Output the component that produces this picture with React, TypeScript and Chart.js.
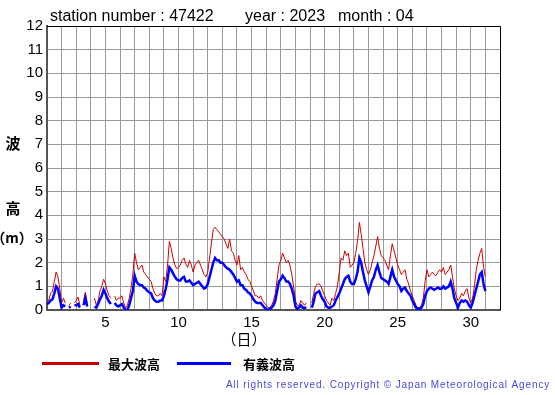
import React, { useEffect, useRef } from "react";
import { Chart, registerables } from "chart.js";

Chart.register(...registerables);

// 3-hourly wave heights (m), April 2023, station 47422; 8 values per day, plus 24:00 of day 30
const maxWave: (number | null)[] = [
  0.45, 0.4, 0.7, 0.8, 1.2, 1.6, 1.4, 0.9, // 1
  0.3, 0.5, 0.3, null, 0.2, 0.3, null, 0.3, // 2
  0.4, 0.55, 0.2, null, 0.4, 0.75, 0.3, null, // 3
  0.2, null, 0.5, 0.2, 0.4, 0.8, 1.0, 1.3, // 4
  1.1, 0.8, 0.6, 0.5, null, 0.6, 0.4, 0.5, // 5
  0.5, 0.6, 0.3, 0.1, 0.2, 0.5, 0.9, 1.5, // 6
  2.4, 2.0, 1.7, 1.8, 1.9, 1.6, 1.5, 1.4, // 7
  1.3, 1.2, 0.9, 0.7, 0.6, 0.6, 0.7, 0.6, // 8
  1.4, 1.2, 1.9, 2.9, 2.6, 2.2, 1.9, 1.75, // 9
  1.8, 1.9, 2.1, 2.2, 1.95, 1.8, 2.1, 1.9, // 10
  1.6, 1.9, 2.0, 2.1, 1.9, 1.7, 1.5, 1.4, // 11
  1.6, 2.2, 2.8, 3.4, 3.5, 3.4, 3.3, 3.2, // 12
  3.1, 3.0, 2.8, 2.6, 3.0, 2.5, 2.4, 2.1, // 13
  1.9, 2.3, 1.7, 1.8, 1.6, 1.5, 1.3, 1.2, // 14
  1.0, 0.8, 0.6, 0.6, 0.5, 0.6, 0.4, 0.3, // 15
  0.2, 0.1, 0.1, 0.2, 0.4, 0.7, 1.3, 1.9, // 16
  2.1, 2.4, 2.2, 2.0, 2.1, 1.9, 1.5, 1.0, // 17
  0.4, 0.2, 0.2, 0.4, 0.3, 0.2, 0.3, null, // 18
  null, 0.3, 0.7, 1.0, 1.1, 1.1, 1.0, 0.8, // 19
  0.6, 0.4, 0.3, 0.2, 0.5, 0.4, 0.7, 1.0, // 20
  1.6, 2.2, 2.1, 2.5, 2.3, 2.4, 1.8, 1.9, // 21
  2.0, 2.4, 2.9, 3.7, 3.2, 2.6, 2.0, 1.7, // 22
  1.5, 1.7, 2.0, 2.3, 2.7, 3.1, 2.6, 2.3, // 23
  2.2, 2.1, 1.9, 1.7, 2.3, 2.8, 2.5, 2.2, // 24
  1.9, 1.7, 1.5, 1.6, 1.7, 1.3, 1.1, 0.8, // 25
  0.6, 0.4, 0.2, 0.1, 0.1, 0.2, 0.5, 1.2, // 26
  1.7, 1.4, 1.5, 1.6, 1.5, 1.45, 1.6, 1.7, // 27
  1.6, 1.8, 1.5, 1.6, 1.7, 1.9, 1.4, 0.9, // 28
  0.6, 0.4, 0.5, 0.7, 0.6, 0.8, 0.9, 0.5, // 29
  0.3, 0.5, 1.0, 1.7, 2.1, 2.4, 2.6, 1.8, // 30
  1.4,
];

const sigWave: (number | null)[] = [
  0.25, 0.3, 0.4, 0.45, 0.7, 1.0, 0.9, 0.5, // 1
  0.1, 0.2, 0.15, null, 0.1, 0.15, null, 0.2, // 2
  0.2, 0.25, 0.1, null, 0.2, 0.5, 0.15, null, // 3
  0.1, null, 0.15, 0.1, 0.25, 0.45, 0.6, 0.85, // 4
  0.7, 0.5, 0.35, 0.25, null, 0.3, 0.2, 0.15, // 5
  0.2, 0.25, 0.1, 0.0, 0.0, 0.2, 0.5, 0.8, // 6
  1.45, 1.2, 1.1, 1.05, 1.05, 0.95, 0.9, 0.8, // 7
  0.75, 0.7, 0.5, 0.4, 0.35, 0.35, 0.4, 0.4, // 8
  0.6, 0.9, 1.3, 1.8, 1.7, 1.55, 1.4, 1.3, // 9
  1.25, 1.25, 1.35, 1.4, 1.2, 1.2, 1.25, 1.15, // 10
  1.05, 1.1, 1.15, 1.2, 1.1, 1.0, 0.9, 0.95, // 11
  1.1, 1.4, 1.7, 2.0, 2.2, 2.1, 2.1, 2.0, // 12
  2.0, 1.9, 1.8, 1.75, 1.7, 1.6, 1.5, 1.35, // 13
  1.2, 1.25, 1.05, 1.05, 0.9, 0.85, 0.75, 0.7, // 14
  0.6, 0.45, 0.35, 0.3, 0.3, 0.3, 0.2, 0.1, // 15
  0.05, 0.0, 0.05, 0.1, 0.2, 0.4, 0.8, 1.2, // 16
  1.3, 1.45, 1.35, 1.2, 1.2, 1.1, 0.9, 0.6, // 17
  0.15, 0.05, 0.1, 0.2, 0.1, 0.1, 0.1, null, // 18
  null, 0.1, 0.35, 0.7, 0.75, 0.8, 0.6, 0.45, // 19
  0.35, 0.15, 0.1, 0.1, 0.15, 0.2, 0.4, 0.55, // 20
  0.7, 0.9, 1.1, 1.3, 1.4, 1.45, 1.2, 1.1, // 21
  1.1, 1.3, 1.6, 2.2, 2.0, 1.6, 1.25, 1.0, // 22
  0.75, 1.0, 1.25, 1.4, 1.7, 1.9, 1.6, 1.35, // 23
  1.3, 1.25, 1.2, 1.1, 1.4, 1.7, 1.4, 1.25, // 24
  1.1, 1.0, 0.8, 0.9, 0.95, 0.8, 0.7, 0.6, // 25
  0.4, 0.25, 0.1, 0.05, 0.05, 0.1, 0.25, 0.6, // 26
  0.8, 0.9, 0.95, 0.9, 0.85, 0.9, 0.95, 0.9, // 27
  0.9, 1.0, 0.9, 0.95, 1.0, 1.2, 0.9, 0.5, // 28
  0.3, 0.1, 0.3, 0.4, 0.35, 0.4, 0.35, 0.2, // 29
  0.1, 0.3, 0.6, 0.9, 1.2, 1.5, 1.6, 1.1, // 30
  0.8,
];

const pointsPerDay = 8;
const firstDay = 1;
const lastDay = 32;
const xLabelDays = [5, 10, 15, 20, 25, 30];
const yMin = 0;
const yMax = 12;

const titleParts = ["station number : 47422", "year : 2023", "month : 04"];
const legendLabels = ["最大波高", "有義波高"];
const yAxisChars = ["波", "高", "（m）"];
const xAxisTitle = "（日）";
const copyright = "All rights reserved. Copyright © Japan Meteorological Agency";

const RED = "#cc0000";
const BLUE = "#0000ff";

const toXY = (arr: (number | null)[]) =>
  arr.map((v, i) => ({ x: firstDay + i / pointsPerDay, y: v }));

const decorPlugin = {
  id: "decor",
  afterDraw(chart: any) {
    const { ctx, chartArea } = chart;
    ctx.save();
    // top & right border
    ctx.strokeStyle = "#000";
    ctx.lineWidth = 1;
    ctx.beginPath();
    ctx.moveTo(chartArea.left, Math.round(chartArea.top) + 0.5);
    ctx.lineTo(Math.round(chartArea.right) + 0.5, Math.round(chartArea.top) + 0.5);
    ctx.lineTo(Math.round(chartArea.right) + 0.5, chartArea.bottom);
    ctx.stroke();

    // title
    ctx.fillStyle = "#000";
    ctx.font = "16px 'Liberation Sans', Arial, sans-serif";
    ctx.textBaseline = "alphabetic";
    ctx.textAlign = "left";
    const tx = [50, 245, 338];
    titleParts.forEach((t, i) => ctx.fillText(t, tx[i], 21));

    // y axis title
    ctx.font = "bold 15px 'Noto Sans CJK JP', sans-serif";
    ctx.textAlign = "center";
    ctx.textBaseline = "middle";
    ctx.fillText(yAxisChars[0], 13, 143);
    ctx.fillText(yAxisChars[1], 13, 208);
    ctx.font = "bold 14px 'Noto Sans CJK JP', sans-serif";
    ctx.fillText(yAxisChars[2], 12, 238);

    // x axis title
    ctx.font = "15px 'Noto Sans CJK JP', sans-serif";
    ctx.fillText(xAxisTitle, 244, 339);

    // legend
    ctx.lineWidth = 3;
    ctx.strokeStyle = RED;
    ctx.beginPath();
    ctx.moveTo(42, 363.5);
    ctx.lineTo(99, 363.5);
    ctx.stroke();
    ctx.strokeStyle = BLUE;
    ctx.beginPath();
    ctx.moveTo(177, 363.5);
    ctx.lineTo(231, 363.5);
    ctx.stroke();
    ctx.font = "bold 13px 'Noto Sans CJK JP', sans-serif";
    ctx.textAlign = "left";
    ctx.fillStyle = "#000";
    ctx.fillText(legendLabels[0], 108, 364);
    ctx.fillText(legendLabels[1], 243, 364);

    // copyright
    ctx.font = "10px 'Liberation Sans', Arial, sans-serif";
    ctx.fillStyle = "#4848e0";
    const w0 = ctx.measureText(copyright).width;
    const spacing = (323 - w0) / (copyright.length - 1);
    (ctx as any).letterSpacing = spacing.toFixed(2) + "px";
    ctx.textAlign = "left";
    ctx.fillText(copyright, 226, 385);
    ctx.restore();
  },
};

export default function App() {
  const ref = useRef<HTMLCanvasElement>(null);
  useEffect(() => {
    if (!ref.current) return;
    const chart = new Chart(ref.current, {
      type: "line",
      data: {
        datasets: [
          {
            label: legendLabels[1],
            data: toXY(sigWave) as any,
            borderColor: BLUE,
            borderWidth: 2.5,
            pointRadius: 0,
            tension: 0,
            spanGaps: false,
            order: 0,
          },
          {
            label: legendLabels[0],
            data: toXY(maxWave) as any,
            borderColor: RED,
            borderWidth: 1,
            pointRadius: 0,
            tension: 0,
            spanGaps: false,
            order: 1,
          },
        ],
      },
      options: {
        animation: false,
        responsive: false,
        devicePixelRatio: 1,
        layout: { padding: { top: 26, right: 55, left: 0, bottom: 0 } },
        plugins: { legend: { display: false }, tooltip: { enabled: false }, title: { display: false } },
        scales: {
          x: {
            type: "linear",
            min: firstDay,
            max: lastDay,
            grid: { color: "#999", lineWidth: 1, drawTicks: false },
            border: { color: "#555", width: 2 },
            ticks: {
              stepSize: 1,
              autoSkip: false,
              maxRotation: 0,
              padding: 4,
              color: "#000",
              font: { family: "'Liberation Sans', Arial, sans-serif", size: 15 },
              callback: (v: any) => (xLabelDays.includes(Number(v)) ? String(v) : ""),
            },
            afterFit: (s: any) => {
              s.height = 85;
            },
          },
          y: {
            min: yMin,
            max: yMax,
            grid: { color: "#999", lineWidth: 1, drawTicks: false },
            border: { color: "#555", width: 2 },
            ticks: {
              stepSize: 1,
              padding: 4,
              color: "#000",
              font: { family: "'Liberation Sans', Arial, sans-serif", size: 15 },
            },
            afterFit: (s: any) => {
              s.width = 47;
            },
          },
        },
      },
      plugins: [decorPlugin],
    });
    return () => chart.destroy();
  }, []);
  return (
    <div style={{ position: "absolute", left: 0, top: 0, width: 555, height: 395, background: "#fff" }}>
      <canvas ref={ref} width={555} height={395} style={{ display: "block" }} />
    </div>
  );
}
